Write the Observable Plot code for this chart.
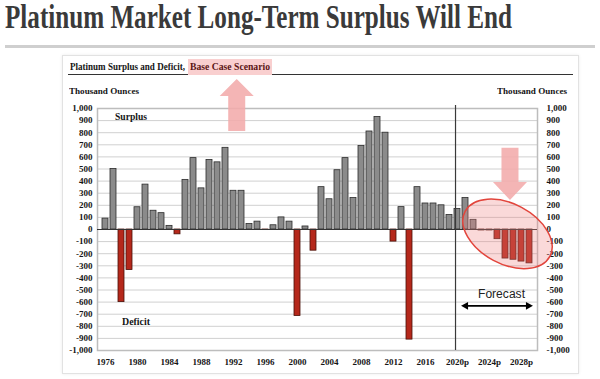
<!DOCTYPE html>
<html><head><meta charset="utf-8">
<script src="https://cdn.jsdelivr.net/npm/d3@7"></script>
<script src="https://cdn.jsdelivr.net/npm/@observablehq/plot@0.6"></script>
<style>
html,body{margin:0;padding:0;background:#fff;}
#wrap{position:relative;width:600px;height:379px;overflow:hidden;background:#fff;}
#wrap svg{position:absolute;left:0;top:0;}
.t{position:absolute;white-space:nowrap;line-height:1;transform-origin:0 0;}
.box{position:absolute;}
</style></head><body><div id="wrap"></div>
<script>
// ---- data ----
const years = [1976,1977,1978,1979,1980,1981,1982,1983,1984,1985,1986,1987,1988,1989,1990,1991,1992,1993,1994,1995,1996,1997,1998,1999,2000,2001,2002,2003,2004,2005,2006,2007,2008,2009,2010,2011,2012,2013,2014,2015,2016,2017,2018,2019,2020,2021,2022,2023,2024,2025,2026,2027,2028,2029];
const balance = [90,500,-600,-335,184,371,155,135,30,-40,410,590,340,575,555,675,320,320,45,65,-5,35,100,65,-715,25,-175,350,250,490,590,260,690,810,930,800,-100,185,-910,350,215,215,200,120,170,260,80,-8,-8,-80,-240,-250,-265,-280];
const tickYears = [1976,1980,1984,1988,1992,1996,2000,2004,2008,2012,2016,2020,2024,2028];
const tickLabels = ["1976","1980","1984","1988","1992","1996","2000","2004","2008","2012","2016","2020p","2024p","2028p"];
const yTicks = [-1000,-900,-800,-700,-600,-500,-400,-300,-200,-100,0,100,200,300,400,500,600,700,800,900,1000];
const forecastStart = 2020;
const forecastEnd = 2029;

const title = "Platinum Market Long-Term Surplus Will End";
const subtitle = "Platinum Surplus and Deficit,";
const subtitleHighlight = "Base Case Scenario";
const unitLabel = "Thousand Ounces";

// ---- build ----
const data = years.map((year, i) => ({year, value: balance[i]}));
const labelOf = new Map(tickYears.map((y, i) => [y, tickLabels[i]]));
const fmt = d => (d < 0 ? "-" : "") + d3.format(",")(Math.abs(d));
const SERIF = '"Liberation Serif","Times New Roman",serif';
const SANS = '"Liberation Sans",Arial,sans-serif';
const wrap = document.getElementById("wrap");

function box(o) {
  const el = document.createElement("div");
  el.className = "box";
  Object.assign(el.style, o);
  wrap.appendChild(el);
  return el;
}
function label(text, o) {
  const el = document.createElement("div");
  el.className = "t";
  el.textContent = text;
  const sans = o.family === SANS;
  Object.assign(el.style, {
    left: o.left + "px",
    fontSize: o.size + "px",
    fontFamily: o.family || SERIF,
    fontWeight: o.weight || "bold",
    color: o.color || "#151515"
  });
  el.style.top = (o.baseline - o.size * (sans ? 0.8465 : 0.8375)) + "px";
  wrap.appendChild(el);
  if (o.width) {
    const w = el.getBoundingClientRect().width;
    el.style.transform = `scaleX(${o.width / w})`;
  }
  return el;
}

function arrow(g, x, yBase, yTip, shaftW, headW, headL, color) {
  const dir = Math.sign(yTip - yBase);
  const yHead = yTip - dir * headL;
  const pts = [[x - shaftW/2, yBase], [x + shaftW/2, yBase], [x + shaftW/2, yHead], [x + headW/2, yHead],
               [x, yTip], [x - headW/2, yHead], [x - shaftW/2, yHead]];
  g.append("polygon").attr("points", pts.map(p => p.join(",")).join(" ")).attr("fill", color).attr("fill-opacity", 0.88);
}

function annotations(index, scales, values, dims) {
  const band = d3.scaleBand(years, [dims.marginLeft, dims.width - dims.marginRight]).paddingInner(0.25).paddingOuter(0.125);
  const y = (scales && typeof scales.y === "function") ? scales.y
    : d3.scaleLinear([-1000, 1000], [dims.height - dims.marginBottom, dims.marginTop]);
  const cx = yr => band(yr) + band.bandwidth() / 2;
  const gap = (band.step() - band.bandwidth()) / 2;
  const g = d3.create("svg:g");
  // forecast divider
  const xd = band(forecastStart) - gap;
  g.append("line").attr("x1", xd).attr("x2", xd).attr("y1", y(1000) - 3).attr("y2", y(-1000))
    .attr("stroke", "#3a3a3a").attr("stroke-width", 1.2);
  // up arrow (surplus)
  arrow(g, band(1993) - gap + 1.2, y(810), y(1240), 17, 34, 17, "#f2abab");
  // down arrow (forecast)
  arrow(g, cx(2026) + 1.5, y(672), y(240), 17, 34, 18, "#f2abab");
  // ellipse highlight
  const ex = cx(2026) - 1, ey = y(-40);
  g.append("ellipse").attr("cx", ex).attr("cy", ey).attr("rx", 48).attr("ry", 30)
    .attr("transform", `rotate(28 ${ex} ${ey})`)
    .attr("fill", "#f08080").attr("fill-opacity", 0.3)
    .attr("stroke", "#e2453c").attr("stroke-width", 1.5);
  // forecast double arrow
  const x1 = cx(forecastStart) + 1.5, x2 = cx(forecastEnd), ya = y(-635);
  g.append("line").attr("x1", x1 + 4).attr("x2", x2 - 4).attr("y1", ya).attr("y2", ya)
    .attr("stroke", "#000").attr("stroke-width", 1.6);
  g.append("polygon").attr("points", `${x1},${ya} ${x1 + 7},${ya - 3.8} ${x1 + 7},${ya + 3.8}`).attr("fill", "#000");
  g.append("polygon").attr("points", `${x2},${ya} ${x2 - 7},${ya - 3.8} ${x2 - 7},${ya + 3.8}`).attr("fill", "#000");
  return g.node();
}

// card + rules
box({left: "5px", top: "45px", width: "590px", height: "3px", background: "#cfcfcf"});
box({left: "62px", top: "55px", width: "515px", height: "317px", border: "1px solid #e2e2e2", boxShadow: "0 0 3px rgba(0,0,0,0.08)"});

const plot = Plot.plot({
  width: 600, height: 379,
  marginLeft: 97, marginRight: 63, marginTop: 108, marginBottom: 29,
  style: {fontFamily: SERIF, fontSize: "9px", fontWeight: "bold", color: "#151515", background: "transparent", overflow: "visible"},
  x: {type: "band", domain: years, paddingInner: 0.25, paddingOuter: 0.125, label: null},
  y: {domain: [-1000, 1000], label: null},
  marks: [
    Plot.gridY(yTicks, {stroke: "#d0d0d0", strokeOpacity: 1, strokeWidth: 1}),
    Plot.frame({stroke: "#bdbdbd", strokeWidth: 1.5}),
    Plot.barY(data.filter(d => d.value >= 0), {x: "year", y: "value", fill: "#8b8b8b", stroke: "#2b2b2b", strokeWidth: 0.8}),
    Plot.barY(data.filter(d => d.value < 0), {x: "year", y: "value", fill: "#b5281b", stroke: "#4a1008", strokeWidth: 0.8}),
    Plot.ruleY([0], {stroke: "#333", strokeWidth: 1}),
    Plot.axisY(yTicks, {anchor: "left", tickSize: 0, tickPadding: 5, tickFormat: fmt, label: null}),
    Plot.axisY(yTicks, {anchor: "right", tickSize: 0, tickPadding: 9, tickFormat: fmt, label: null}),
    Plot.axisX(tickYears, {anchor: "bottom", tickSize: 0, tickPadding: 8, tickFormat: d => labelOf.get(d), label: null}),
    annotations
  ]
});
wrap.appendChild(plot);

// texts
label(title, {left: 5, baseline: 29, size: 33, width: 507, color: "#3a3a3a"});
box({left: "68px", top: "73.5px", width: "505px", height: "1.5px", background: "#333"});
box({left: "188px", top: "59px", width: "84px", height: "16px", background: "#f9cfcf"});
label(subtitle, {left: 70, baseline: 70.5, size: 9.5, width: 115});
label(subtitleHighlight, {left: 190, baseline: 70.5, size: 9.5, width: 80, color: "#5b1515"});
label(unitLabel, {left: 69, baseline: 94.7, size: 9, width: 70});
label(unitLabel, {left: 497, baseline: 94.7, size: 9, width: 70});
label("Surplus", {left: 115, baseline: 121.2, size: 9.5, width: 32});
label("Deficit", {left: 122, baseline: 326, size: 9.5, width: 28});
label("Forecast", {left: 478, baseline: 298, size: 12, width: 47, family: SANS, weight: "normal", color: "#222"});
</script></body></html>
